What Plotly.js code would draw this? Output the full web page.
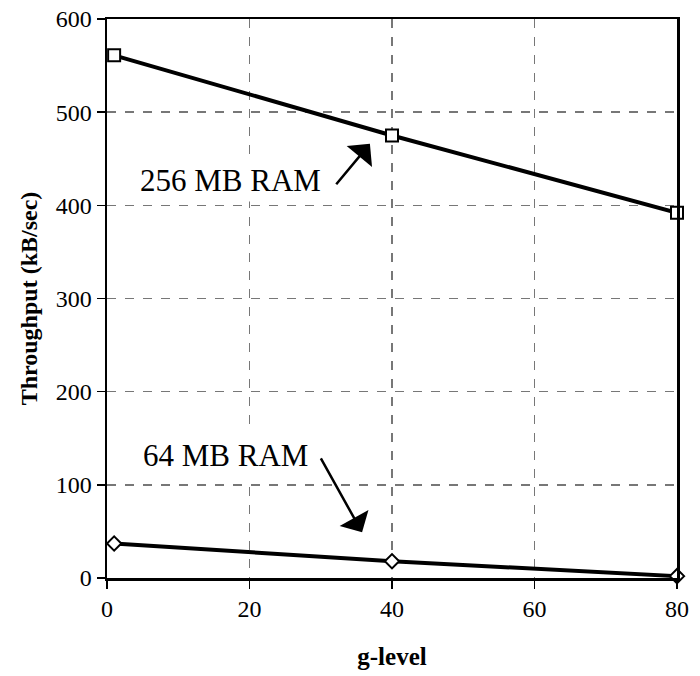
<!DOCTYPE html>
<html>
<head>
<meta charset="utf-8">
<script src="https://cdn.plot.ly/plotly-3.0.1.min.js"></script>
<style>html,body{margin:0;padding:0;background:#fff;}</style>
</head>
<body>
<div id="chart" style="width:700px;height:676px;"></div>
<script>
const gLevel = [1, 40, 80];
const ram256 = [561, 475, 392];
const ram64 = [37, 18, 2];
const xTicks = [0, 20, 40, 60, 80];
const yTicks = [0, 100, 200, 300, 400, 500, 600];

const serif = "Liberation Serif, Times New Roman, serif";

const traces = [
  {x: gLevel, y: ram256, mode: 'lines+markers', name: '256 MB RAM',
   line: {color: '#000', width: 4},
   marker: {symbol: 'square', size: 12, color: '#fff', line: {color: '#000', width: 2}},
   cliponaxis: false},
  {x: gLevel, y: ram64, mode: 'lines+markers', name: '64 MB RAM',
   line: {color: '#000', width: 4},
   marker: {symbol: 'diamond', size: 11, color: '#fff', line: {color: '#000', width: 2}},
   cliponaxis: false}
];

const layout = {
  width: 700, height: 676,
  margin: {l: 107, r: 23, t: 19, b: 98},
  paper_bgcolor: '#fff', plot_bgcolor: '#fff',
  showlegend: false,
  font: {family: serif, color: '#000', size: 24},
  xaxis: {
    range: [0, 80], tickvals: xTicks, ticktext: xTicks.map(String),
    showline: true, linecolor: '#000', linewidth: 2.5, mirror: true,
    ticks: 'outside', ticklen: 8, tickwidth: 1.5, tickcolor: '#000',
    showgrid: true, gridcolor: '#777', gridwidth: 1.5, griddash: 'dash',
    zeroline: false,
    tickfont: {family: serif, size: 24},
    title: {text: '<b>g-level</b>', font: {family: serif, size: 25}, standoff: 26}
  },
  yaxis: {
    range: [0, 600], tickvals: yTicks, ticktext: yTicks.map(String),
    showline: true, linecolor: '#000', linewidth: 2.5, mirror: true,
    ticks: 'outside', ticklen: 8, tickwidth: 1.5, tickcolor: '#000',
    showgrid: true, gridcolor: '#777', gridwidth: 1.5, griddash: 'dash',
    zeroline: false,
    tickfont: {family: serif, size: 24},
    title: {text: '<b>Throughput (kB/sec)</b>', font: {family: serif, size: 24}, standoff: 12}
  },
  annotations: [
    {x: 17.3, y: 427, xref: 'x', yref: 'y', text: '256 MB RAM', showarrow: false,
     font: {family: serif, size: 31}, bgcolor: '#fff', borderpad: 3},
    {x: 36.9, y: 466, ax: 32, ay: 421, xref: 'x', yref: 'y', axref: 'x', ayref: 'y',
     text: '', showarrow: true, arrowhead: 1, arrowsize: 2.2, arrowwidth: 2.5, arrowcolor: '#000'},
    {x: 16.6, y: 132, xref: 'x', yref: 'y', text: '64 MB RAM', showarrow: false,
     font: {family: serif, size: 31}, bgcolor: '#fff', borderpad: 8},
    {x: 35.8, y: 49, ax: 29.9, ay: 130, xref: 'x', yref: 'y', axref: 'x', ayref: 'y',
     text: '', showarrow: true, arrowhead: 1, arrowsize: 2.2, arrowwidth: 2.5, arrowcolor: '#000'}
  ]
};

Plotly.newPlot('chart', traces, layout, {displayModeBar: false, staticPlot: true});
</script>
</body>
</html>
